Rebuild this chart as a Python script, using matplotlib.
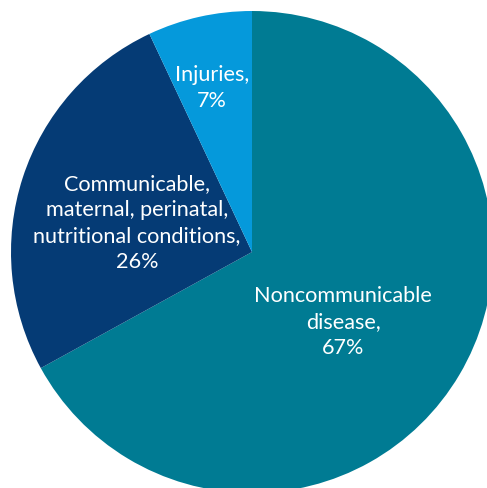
import matplotlib.pyplot as plt

categories = ["Noncommunicable\ndisease", "Communicable,\nmaternal, perinatal,\nnutritional conditions", "Injuries"]
shares = [67, 26, 7]
colors = ["#007B93", "#053B75", "#0599DB"]
label_pos = [(0.378, -0.286), (-0.477, 0.124), (-0.166, 0.685)]

plt.rcParams["font.family"] = ["Lato", "DejaVu Sans"]

fig = plt.figure(figsize=(4.87, 4.89), dpi=100)
ax = fig.add_axes([11 / 487, -5 / 489, 482 / 487, 482 / 489])
ax.pie(shares, colors=colors, startangle=90, counterclock=False, radius=1,
       wedgeprops=dict(linewidth=0))
for name, val, (x, y) in zip(categories, shares, label_pos):
    ax.text(x, y, f"{name},\n{val}%", ha="center", va="center", color="white",
            fontsize=15.6, linespacing=1.38)
ax.set_xlim(-1, 1)
ax.set_ylim(-1, 1)
ax.set_aspect("equal")
ax.axis("off")
fig.savefig("out.png", dpi=100)
